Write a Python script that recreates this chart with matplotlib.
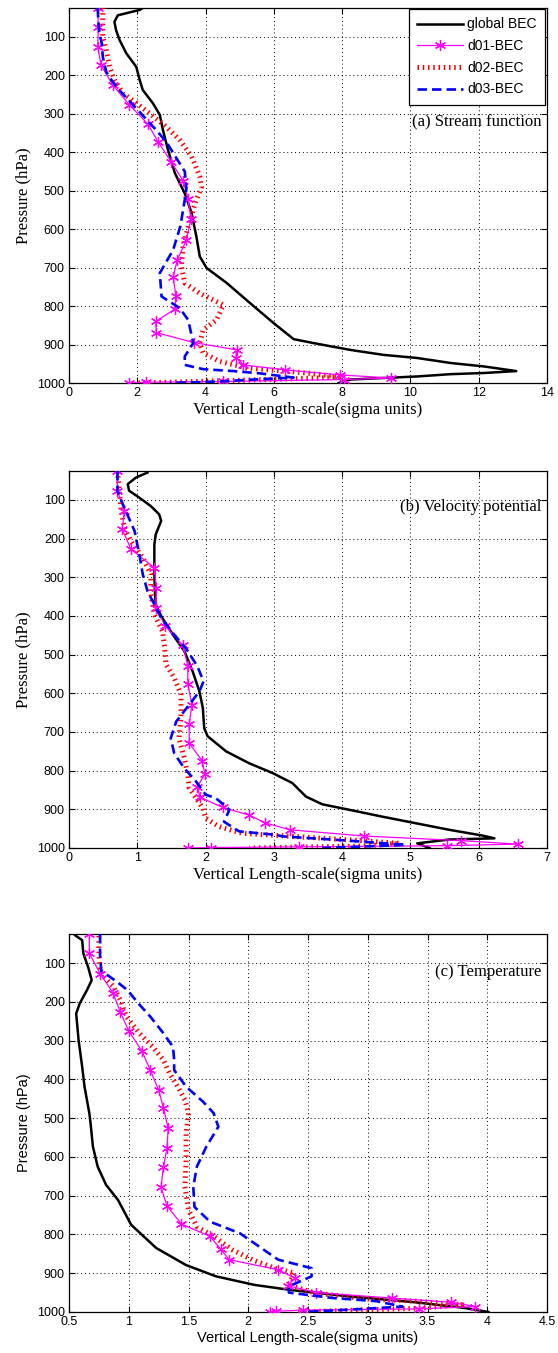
import matplotlib
matplotlib.use("Agg")
import matplotlib.pyplot as plt
from matplotlib.lines import Line2D

# ---------------- data ----------------
# (a) Stream function
a_glob_p = [25, 30, 44, 61, 83, 108, 143, 178, 212, 238, 273, 303, 342, 394, 454, 507, 558, 619, 671, 701,
            740, 792, 844, 886, 896, 914, 927, 935, 948, 957, 969, 974, 977, 983, 987, 991, 1000]
a_glob_x = [2.16, 2.07, 1.43, 1.33, 1.38, 1.48, 1.68, 1.97, 2.07, 2.16, 2.46, 2.66, 2.75, 2.9, 3.1, 3.39, 3.59,
            3.73, 3.83, 4.03, 4.62, 5.3, 5.99, 6.58, 7.15, 8.24, 9.22, 10.2, 11.18, 12.16, 13.1, 12.16, 11.18,
            10.2, 9.2, 8.24, 7.9]
a_d01_p = [25, 74, 126, 174, 225, 277, 327, 373, 426, 474, 522, 574, 628, 680, 725, 773, 808, 840, 869, 895,
           914, 934, 953, 966, 979, 987, 991, 996, 998, 1000]
a_d01_x = [0.84, 0.86, 0.84, 0.94, 1.28, 1.77, 2.31, 2.61, 3.0, 3.34, 3.49, 3.57, 3.44, 3.17, 3.05, 3.13, 3.1,
           2.54, 2.56, 3.67, 4.91, 4.89, 5.11, 6.33, 7.95, 9.42, 8.04, 4.51, 2.26, 1.77]
a_d02_p = [25, 30, 100, 135, 178, 212, 247, 272, 299, 334, 368, 411, 463, 490, 533, 594, 645, 697, 740, 767,
           797, 836, 862, 896, 922, 944, 961, 974, 985, 993, 1000]
a_d02_x = [0.97, 0.99, 0.99, 1.09, 1.19, 1.33, 1.58, 1.97, 2.36, 2.85, 3.24, 3.59, 3.83, 3.88, 3.69, 3.49, 3.34,
           3.29, 3.39, 3.83, 4.52, 4.32, 3.93, 3.83, 3.93, 4.42, 5.21, 6.97, 8.0, 5.0, 2.0]
a_d03_p = [25, 60, 91, 117, 152, 191, 217, 239, 286, 338, 373, 416, 450, 494, 524, 593, 654, 714, 775, 805,
           836, 896, 931, 953, 964, 969, 975, 986, 990, 996, 1000]
a_d03_x = [0.84, 0.86, 0.89, 0.96, 0.99, 1.09, 1.28, 1.48, 1.97, 2.51, 2.85, 3.15, 3.39, 3.44, 3.39, 3.26, 3.05,
           2.66, 2.71, 3.24, 3.49, 3.64, 3.39, 3.39, 3.93, 4.81, 5.6, 6.58, 5.6, 4.42, 2.95]

# (b) Velocity potential
b_glob_p = [29, 42, 59, 76, 94, 116, 137, 154, 189, 215, 292, 344, 370, 400, 448, 491, 543, 595, 638, 690,
            711, 750, 781, 806, 832, 867, 887, 901, 919, 936, 953, 968, 975, 978, 988, 1000]
b_glob_x = [1.15, 0.98, 0.86, 0.88, 1.03, 1.2, 1.32, 1.35, 1.27, 1.25, 1.25, 1.26, 1.27, 1.35, 1.52, 1.69, 1.81,
            1.91, 1.96, 1.98, 2.03, 2.3, 2.64, 2.98, 3.27, 3.47, 3.71, 4.1, 4.59, 5.08, 5.57, 6.06, 6.23, 5.57,
            5.1, 5.28]
b_d01_p = [25, 77, 128, 176, 228, 275, 327, 379, 426, 476, 530, 577, 629, 680, 729, 774, 809, 841, 869, 895,
           915, 935, 953, 969, 981, 990, 994, 997, 999, 1000]
b_d01_x = [0.71, 0.71, 0.81, 0.78, 0.91, 1.25, 1.28, 1.27, 1.41, 1.67, 1.74, 1.74, 1.8, 1.76, 1.76, 1.95, 1.99,
           1.88, 1.92, 2.25, 2.64, 2.87, 3.24, 4.32, 5.74, 6.57, 5.54, 3.37, 2.08, 1.74]
b_d02_p = [25, 120, 172, 207, 249, 293, 344, 396, 440, 480, 525, 560, 603, 664, 716, 768, 811, 845, 871, 897,
           923, 945, 962, 970, 979, 988, 995, 1000]
b_d02_x = [0.71, 0.76, 0.81, 0.91, 1.08, 1.2, 1.2, 1.25, 1.37, 1.4, 1.42, 1.54, 1.64, 1.64, 1.61, 1.69, 1.74,
           1.76, 1.86, 1.96, 2.0, 2.2, 2.54, 3.27, 4.1, 4.84, 4.3, 2.64]
b_d03_p = [25, 77, 120, 180, 241, 292, 336, 370, 405, 448, 483, 530, 569, 595, 634, 673, 716, 755, 794, 828,
           862, 871, 901, 932, 957, 966, 970, 981, 992, 1000]
b_d03_x = [0.71, 0.71, 0.81, 0.96, 1.03, 1.08, 1.15, 1.25, 1.35, 1.54, 1.71, 1.88, 1.97, 1.91, 1.74, 1.57, 1.49,
           1.54, 1.69, 1.86, 2.0, 2.15, 2.35, 2.27, 2.49, 3.03, 3.13, 4.1, 4.93, 3.71]

# (c) Temperature
c_glob_p = [28, 41, 75, 110, 144, 170, 204, 230, 298, 367, 419, 487, 512, 573, 625, 672, 711, 775, 835, 879,
            908, 930, 943, 960, 975, 990, 1000]
c_glob_x = [0.55, 0.61, 0.62, 0.66, 0.69, 0.65, 0.59, 0.56, 0.58, 0.61, 0.63, 0.67, 0.68, 0.70, 0.74, 0.81,
            0.91, 1.02, 1.23, 1.48, 1.73, 2.05, 2.35, 2.85, 3.4, 3.82, 4.01]
c_d01_p = [25, 75, 127, 178, 227, 275, 327, 376, 427, 474, 526, 576, 627, 678, 726, 773, 805, 838, 865, 891,
           913, 932, 950, 964, 975, 986, 992, 995, 998, 1000]
c_d01_x = [0.67, 0.67, 0.76, 0.87, 0.93, 1.0, 1.11, 1.18, 1.25, 1.29, 1.33, 1.32, 1.29, 1.27, 1.32, 1.44, 1.68,
           1.77, 1.84, 2.25, 2.39, 2.33, 2.57, 3.2, 3.7, 3.9, 3.43, 2.46, 2.23, 2.18]
c_d02_p = [30, 75, 113, 135, 160, 195, 238, 281, 316, 350, 384, 419, 453, 487, 539, 608, 677, 737, 780, 805,
           840, 866, 887, 900, 930, 951, 966, 972, 981, 990, 1000]
c_d02_x = [0.75, 0.75, 0.76, 0.79, 0.87, 0.93, 0.98, 1.09, 1.2, 1.29, 1.34, 1.41, 1.47, 1.5, 1.48, 1.48, 1.47,
           1.5, 1.57, 1.71, 1.87, 2.04, 2.22, 2.39, 2.33, 2.56, 2.98, 3.4, 3.79, 3.45, 2.4]
c_d03_p = [25, 80, 120, 148, 170, 204, 238, 281, 316, 350, 376, 419, 457, 487, 522, 573, 625, 677, 729, 767,
           797, 831, 865, 887, 908, 934, 950, 964, 972, 986, 992, 1000]
c_d03_x = [0.76, 0.76, 0.77, 0.9, 0.99, 1.08, 1.18, 1.29, 1.37, 1.38, 1.38, 1.48, 1.62, 1.71, 1.75, 1.65, 1.57,
           1.54, 1.55, 1.68, 1.93, 2.09, 2.25, 2.53, 2.53, 2.34, 2.34, 2.71, 3.07, 3.29, 2.96, 2.46]

series_names = ["global BEC", "d01-BEC", "d02-BEC", "d03-BEC"]
panel_titles = ["(a) Stream function", "(b) Velocity potential", "(c) Temperature"]
y_ticks = [100, 200, 300, 400, 500, 600, 700, 800, 900, 1000]
a_xticks = [0, 2, 4, 6, 8, 10, 12, 14]
b_xticks = [0, 1, 2, 3, 4, 5, 6, 7]
c_xticks = [0.5, 1, 1.5, 2, 2.5, 3, 3.5, 4, 4.5]
xlabel_text = "Vertical Length-scale(sigma units)"
ylabel_text = "Pressure (hPa)"

# ---------------- plotting ----------------
SANS = ["Liberation Sans", "DejaVu Sans"]
SERIF = ["Liberation Serif", "DejaVu Serif"]
plt.rcParams["font.family"] = SANS

fig = plt.figure(figsize=(5.58, 13.53), dpi=100)

left, width = 69 / 558, (547 - 69) / 558
H = 1353.0
boxes = [(8, 383), (471, 848), (934, 1312)]

style_glob = dict(color="black", lw=1.8, solid_joinstyle="round")
style_d01 = dict(color="#ff00ff", lw=0.9, marker=(6, 2, 0), ms=8, mew=0.9)
style_d02 = dict(color="red", lw=3.6, linestyle=(0, (0.3, 0.75)), dash_capstyle="butt")
style_d03 = dict(color="blue", lw=1.9, linestyle=(0, (3.6, 1.9)), dash_capstyle="butt")

panels = [
    (a_glob_p, a_glob_x, a_d01_p, a_d01_x, a_d02_p, a_d02_x, a_d03_p, a_d03_x, a_xticks, SERIF, SERIF, 0.696),
    (b_glob_p, b_glob_x, b_d01_p, b_d01_x, b_d02_p, b_d02_x, b_d03_p, b_d03_x, b_xticks, SERIF, SERIF, 0.905),
    (c_glob_p, c_glob_x, c_d01_p, c_d01_x, c_d02_p, c_d02_x, c_d03_p, c_d03_x, c_xticks, SANS, SANS, 0.900),
]

for i, (gp, gx, p1, x1, p2, x2, p3, x3, xt, xfam, yfam, ty) in enumerate(panels):
    top, bot = boxes[i]
    ax = fig.add_axes([left, 1 - bot / H, width, (bot - top) / H])
    ax.plot(gx, gp, **style_glob, zorder=3)
    ax.plot(x1, p1, **style_d01, zorder=4)
    ax.plot(x2, p2, **style_d02, zorder=3)
    ax.plot(x3, p3, **style_d03, zorder=5)
    ax.set_xlim(xt[0], xt[-1])
    ax.set_ylim(1000, 25)
    ax.set_xticks(xt)
    ax.set_xticklabels([("%g" % v) for v in xt])
    ax.set_yticks(y_ticks)
    ax.grid(True, color="black", linestyle=(0, (1, 3)), lw=0.7)
    ax.tick_params(direction="in", length=4, width=0.8, top=True, right=True, labelsize=9, pad=3)
    for s in ax.spines.values():
        s.set_linewidth(0.9)
    ax.set_xlabel(xlabel_text, family=xfam, fontsize=12 if xfam is SERIF else 10.5, labelpad=2)
    ax.set_ylabel(ylabel_text, family=yfam, fontsize=12 if yfam is SERIF else 10.5, labelpad=4)
    ax.text(0.988, ty, panel_titles[i], transform=ax.transAxes, ha="right", va="center",
            family=SERIF, fontsize=12)
    if i == 0:
        handles = [Line2D([], [], **style_glob), Line2D([], [], **style_d01),
                   Line2D([], [], **style_d02), Line2D([], [], **style_d03)]
        leg = ax.legend(handles, series_names, loc="upper right", fontsize=10, frameon=True,
                        fancybox=False, edgecolor="black", framealpha=1, handlelength=3.3,
                        borderaxespad=0.0, labelspacing=0.55, handletextpad=0.3, borderpad=0.6,
                        markerscale=1.0, bbox_to_anchor=(0.996, 0.997))
        leg.get_frame().set_linewidth(0.9)

fig.savefig("out.png", dpi=100)
